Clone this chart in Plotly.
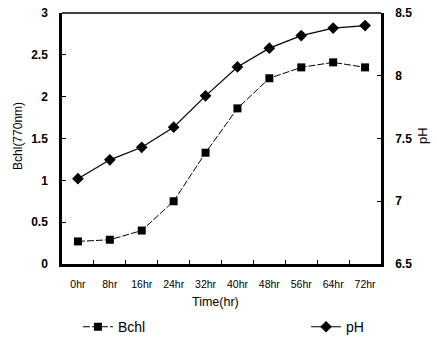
import plotly.graph_objects as go

categories = ["0hr", "8hr", "16hr", "24hr", "32hr", "40hr", "48hr", "56hr", "64hr", "72hr"]
bchl = [0.27, 0.29, 0.40, 0.75, 1.33, 1.86, 2.22, 2.35, 2.41, 2.35]
ph = [7.18, 7.33, 7.43, 7.59, 7.84, 8.07, 8.22, 8.32, 8.38, 8.40]
left_ticks = [0, 0.5, 1, 1.5, 2, 2.5, 3]
right_ticks = [6.5, 7, 7.5, 8, 8.5]

FONT = "Liberation Sans, Arial, sans-serif"

fig = go.Figure()
fig.add_trace(go.Scatter(
    x=categories, y=bchl, name="Bchl", mode="lines+markers",
    line=dict(color="black", width=1, dash="7px,2px"),
    marker=dict(symbol="square", size=8, color="black"),
    legend="legend",
))
fig.add_trace(go.Scatter(
    x=categories, y=ph, name="pH", mode="lines+markers", yaxis="y2",
    line=dict(color="black", width=1.2),
    marker=dict(symbol="diamond", size=9, color="black"),
    legend="legend2",
))

fig.update_layout(
    width=437, height=339,
    margin=dict(l=62, r=56, t=13, b=75, autoexpand=False),
    paper_bgcolor="white", plot_bgcolor="white",
    font=dict(family=FONT, color="black"),
    showlegend=True,
    xaxis=dict(
        type="category", range=[-0.5, 9.5], tickson="boundaries",
        ticks="inside", ticklen=4, tickwidth=1, tickcolor="black",
        showline=True, linecolor="black", linewidth=2.5, mirror=False,
        showgrid=False, zeroline=False, automargin=False,
        tickfont=dict(size=10.5, family=FONT), ticklabelstandoff=9,
    ),
    yaxis=dict(
        range=[0, 3], tickvals=left_ticks,
        ticktext=[f"<b>{v:g}</b>" for v in left_ticks],
        ticks="inside", ticklen=4, tickcolor="black",
        showline=True, linecolor="black", linewidth=2.5,
        showgrid=False, zeroline=False, automargin=False,
        tickfont=dict(size=12, family=FONT), ticklabelstandoff=9,
    ),
    yaxis2=dict(
        range=[6.5, 8.5], overlaying="y", side="right",
        tickvals=right_ticks,
        ticktext=[f"<b>{v:g}</b>" for v in right_ticks],
        ticks="inside", ticklen=4, tickcolor="black",
        showline=True, linecolor="black", linewidth=2.5,
        showgrid=False, zeroline=False, automargin=False,
        tickfont=dict(size=12, family=FONT), ticklabelstandoff=9,
    ),
    legend=dict(x=0.05, y=0.035, yref="container", xanchor="left", yanchor="middle",
                font=dict(size=14, family=FONT), bgcolor="rgba(0,0,0,0)",
                itemwidth=30),
    legend2=dict(x=0.765, y=0.035, yref="container", xanchor="left", yanchor="middle",
                 font=dict(size=14, family=FONT), bgcolor="rgba(0,0,0,0)",
                 itemwidth=30),
    shapes=[dict(type="line", xref="paper", yref="paper", x0=0, x1=1, y0=1, y1=1,
                 line=dict(color="black", width=1.5))],
    annotations=[
        dict(text="Time(hr)", xref="paper", yref="paper", x=0.48, y=-0.151,
             showarrow=False, xanchor="center", yanchor="middle",
             font=dict(size=12.5, family=FONT)),
        dict(text="Bchl(770nm)", xref="paper", yref="paper", x=-0.138, y=0.51,
             showarrow=False, xanchor="center", yanchor="middle", textangle=-90,
             font=dict(size=12, family=FONT)),
        dict(text="pH", xref="paper", yref="paper", x=1.132, y=0.51,
             showarrow=False, xanchor="center", yanchor="middle", textangle=-90,
             font=dict(size=13, family=FONT)),
    ],
)

fig.write_html("out.html")
